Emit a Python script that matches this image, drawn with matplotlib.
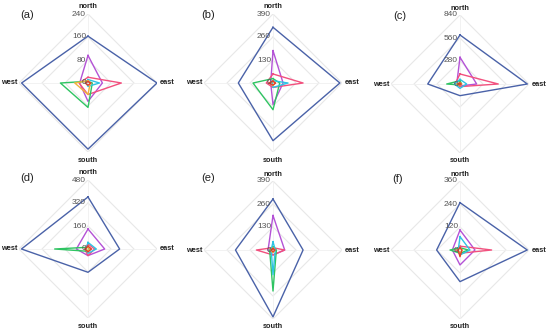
import numpy as np
import matplotlib
matplotlib.use("Agg")
import matplotlib.pyplot as plt

plt.rcParams['font.family'] = ['Liberation Sans', 'DejaVu Sans']

directions = ["north", "east", "south", "west"]
panel_labels = ["(a)", "(b)", "(c)", "(d)", "(e)", "(f)"]
panel_max = [240, 390, 840, 480, 390, 360]

# values per panel, order: north, east, south, west
blue = [[163, 240, 230, 231], [315, 378, 326, 196], [597, 820, 142, 393],
        [362, 220, 162, 463], [288, 170, 378, 212], [247, 351, 165, 122]]
purple = [[96, 50, 64, 29], [183, 57, 122, 13], [325, 203, 24, 40],
          [139, 116, 46, 81], [195, 66, 28, 28], [104, 78, 78, 40]]
pink = [[20, 116, 40, 31], [51, 170, 25, 38], [122, 466, 32, 60],
        [35, 46, 46, 23], [13, 66, 28, 94], [20, 165, 17, 23]]
green = [[6, 15, 85, 96], [25, 38, 151, 113], [40, 20, 12, 162],
         [12, 12, 16, 232], [19, 19, 232, 19], [12, 43, 17, 52]]
cyan = [[12, 40, 12, 6], [13, 85, 25, 5], [57, 81, 53, 69],
        [46, 58, 30, 12], [47, 13, 140, 10], [70, 52, 26, 9]]
orange = [[8, 8, 40, 46], [10, 12, 15, 20], [15, 20, 15, 40],
          [12, 15, 12, 20], [10, 10, 15, 15], [10, 12, 15, 15]]
red = [[5, 10, 8, 10], [10, 15, 12, 25], [10, 15, 10, 25],
       [20, 25, 20, 20], [8, 12, 10, 10], [12, 10, 35, 10]]

series = [(blue, "#4a62a8"), (purple, "#b452d6"), (pink, "#f2507e"),
          (green, "#2fc462"), (cyan, "#2ec4e4"), (orange, "#f2b23c"),
          (red, "#e2402e")]

W, H = 550, 333
centers = [(88, 83), (273, 83), (460, 84), (88, 249), (273, 250), (460, 250)]
R = 69
label_pos = [(27, 15), (208, 15), (400, 16), (27, 178), (208, 178), (398, 179)]

fig = plt.figure(figsize=(W / 100, H / 100), dpi=100)
theta = np.deg2rad([0, 90, 180, 270])
theta_c = np.append(theta, theta[0])

for i in range(6):
    cx, cy = centers[i]
    ax = fig.add_axes([(cx - R) / W, (H - cy - R) / H, 2 * R / W, 2 * R / H],
                      projection="polar")
    ax.set_theta_zero_location("N")
    ax.set_theta_direction(-1)
    m = panel_max[i]
    ax.set_ylim(0, m)
    ax.grid(False)
    ax.spines["polar"].set_visible(False)
    ax.set_xticks([])
    ax.set_yticks([])
    ax.patch.set_alpha(0)

    # diamond grid
    for k in (1, 2, 3):
        ax.plot(theta_c, [m * k / 3] * 5, color="#e8e8e8", lw=0.8, zorder=1)
    for t in theta:
        ax.plot([t, t], [0, m], color="#f0f0f0", lw=0.6, zorder=1)

    for data, col in series:
        v = data[i] + [data[i][0]]
        ax.plot(theta_c, v, color=col, lw=1.0, zorder=3)

    for k in range(4):
        ax.annotate(f"{int(m * k / 3)}", xy=(0, m * k / 3), xytext=(-2, 0),
                    textcoords="offset pixels", ha="right", va="center",
                    fontsize=6, color="#555555", zorder=4)

    offs = [(0, 7), (10, 0), (0, -8), (-10, 0)]
    for t, name, (dx, dy) in zip(theta, directions, offs):
        ax.annotate(name, xy=(t, m), xytext=(dx, dy), textcoords="offset pixels",
                    ha="center", va="center", fontsize=5.3, fontweight="bold",
                    color="#222222", annotation_clip=False)

    lx, ly = label_pos[i]
    fig.text(lx / W, 1 - ly / H, panel_labels[i], ha="center", va="center",
             fontsize=8, color="#222222")

fig.savefig("out.png", dpi=100)
